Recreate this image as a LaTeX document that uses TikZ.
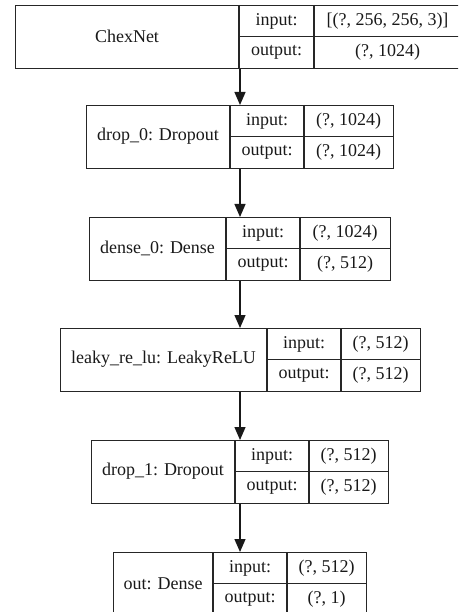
\documentclass[tikz,border=0pt]{standalone}
\usepackage{fontspec}
\setmainfont{Liberation Serif}
\usepackage{tikz}
\usetikzlibrary{arrows.meta}

% one layer: name, left, split 1, split 2, right, top, label, input, output
\newcommand{\kerasbox}[9]{%
  \node[box, anchor=north west, minimum width={(#5-#2)*1pt}, minimum height=63pt] (#1) at (#2,#6) {};
  \draw[box] (#3,#6) -- (#3,#6+63);
  \draw[box] (#4,#6) -- (#4,#6+63);
  \draw[box] (#3,#6+31.5) -- (#5,#6+31.5);
  \node[cell] (#1-name) at ({(#2+#3)/2},#6+31.5) {#7};
  \node[cell] (#1-inkey) at ({(#3+#4)/2},#6+16) {input:};
  \node[cell] (#1-outkey) at ({(#3+#4)/2},#6+47) {output:};
  \node[cell] (#1-inval) at ({(#4+#5)/2},#6+16) {#8};
  \node[cell] (#1-outval) at ({(#4+#5)/2},#6+47) {#9};
}

\begin{document}
\begin{tikzpicture}[x=1pt, y=-1pt,
  box/.style={draw=black!85, line width=1.3pt, inner sep=0pt},
  cell/.style={font=\fontsize{18}{20}\selectfont, inner sep=0pt, text=black!90},
  flow/.style={-{Triangle[length=13pt, width=11pt]}, draw=black!90, line width=1.3pt}]
  \useasboundingbox (0,0) rectangle (458,612);
  \clip (0,0) rectangle (458,612);
  \coordinate (axis) at (240,0);

  \kerasbox{chexnet}{15}{239}{314}{461}{5}{ChexNet}{[(?, 256, 256, 3)]}{(?, 1024)}
  \kerasbox{drop0}{86}{230}{304}{393}{105}{drop\_0: Dropout}{(?, 1024)}{(?, 1024)}
  \kerasbox{dense0}{89}{226}{300}{390}{217}{dense\_0: Dense}{(?, 1024)}{(?, 512)}
  \kerasbox{leaky}{60}{267}{341}{420}{328}{leaky\_re\_lu: LeakyReLU}{(?, 512)}{(?, 512)}
  \kerasbox{drop1}{91}{235}{309}{388}{440}{drop\_1: Dropout}{(?, 512)}{(?, 512)}
  \kerasbox{out}{113}{213}{287}{366}{552}{out: Dense}{(?, 512)}{(?, 1)}

  % connections
  \draw[flow] (chexnet.south -| axis) -- (drop0.north -| axis);
  \draw[flow] (drop0.south -| axis) -- (dense0.north -| axis);
  \draw[flow] (dense0.south -| axis) -- (leaky.north -| axis);
  \draw[flow] (leaky.south -| axis) -- (drop1.north -| axis);
  \draw[flow] (drop1.south -| axis) -- (out.north -| axis);
\end{tikzpicture}
\end{document}
